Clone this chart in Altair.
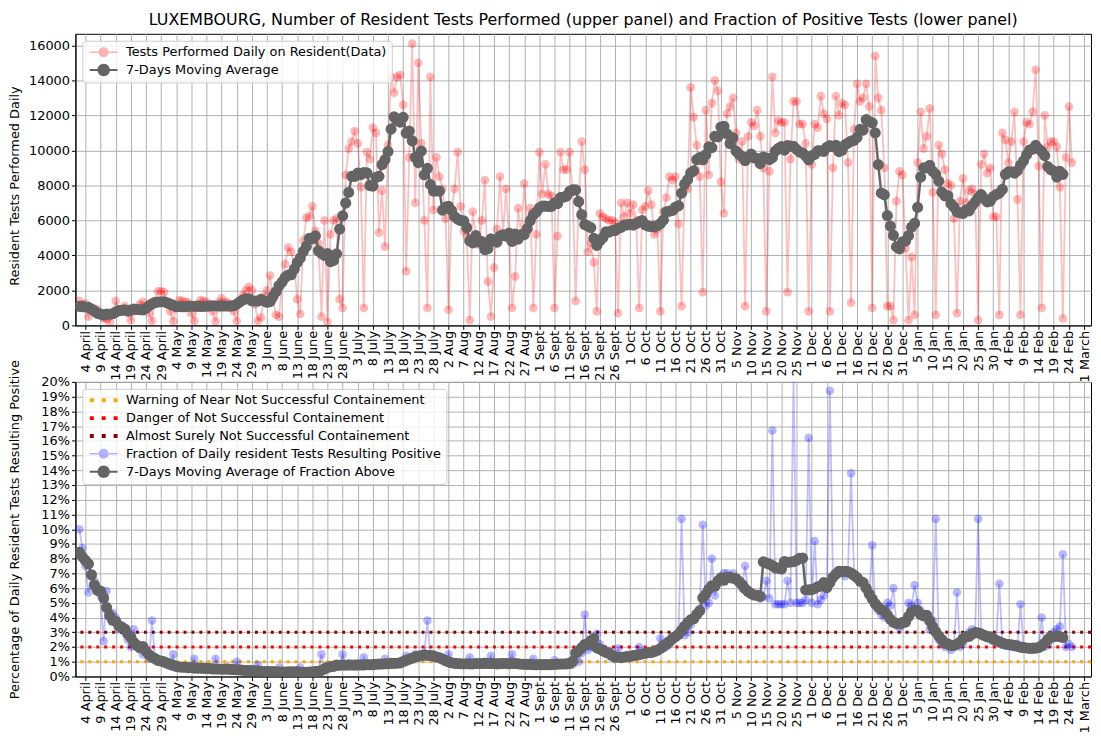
import altair as alt
import pandas as pd

# ---------------- data (day index d = days after 4 April 2020) ----------------
FIRST_DAY = -2

tests_daily = [
    1400, 1200, 1250, 500, 1000, 950, 900, 700, 400, 350,
    200, 600, 1400, 800, 900, 1100, 900, 300, 800, 900,
    1200, 1350, 1000, 700, 250, 1400, 1950, 1950, 1900, 1200,
    800, 250, 1000, 1450, 1400, 1350, 1300, 700, 250, 1200,
    1450, 1400, 1350, 1200, 800, 230, 1300, 1550, 1350, 1300,
    1200, 800, 250, 1250, 1700, 2000, 2200, 2000, 1200, 250,
    450, 1650, 2000, 2850, 1450, 600, 500, 2600, 3500, 4450,
    4200, 3350, 1500, 650, 4850, 6150, 6250, 6800, 5400, 4700,
    500, 6000, 200, 5200, 6000, 6100, 1500, 1000, 8600, 10100,
    10500, 11100, 10400, 7900, 1000, 9900, 9500, 11300, 11000, 5300,
    7700, 4500, 10300, 14200, 13300, 14200, 14300, 12600, 3100, 9600,
    16100, 7000, 15000, 10400, 6000, 1000, 14200, 6600, 9600, 8500,
    7800, 6100, 900, 6600, 7800, 9900, 6800, 5400, 5100, 300,
    6500, 5100, 4600, 6000, 8300, 2500, 500, 3300, 5500, 8500,
    5200, 7800, 4900, 1000, 2800, 6700, 5200, 8100, 5800, 6700,
    1000, 5200, 9900, 7500, 9200, 7500, 7400, 1000, 5100, 9900,
    8900, 8900, 9900, 7600, 1400, 7000, 10500, 8900, 4200, 4700,
    3600, 800, 6400, 6200, 6100, 6000, 6000, 5900, 700, 7000,
    6200, 7000, 6400, 6900, 6000, 1000, 6600, 6800, 7700, 6900,
    5200, 5500, 800, 6500, 7300, 8500, 8300, 8500, 5800, 1100,
    7800, 7800, 13600, 11900, 10300, 8500, 1900, 12300, 8600, 12700,
    14000, 13400, 8200, 6400, 12100, 12500, 13000, 11000, 9500, 10500,
    1100, 10800, 11600, 11400, 12300, 10800, 9000, 800, 8800, 14200,
    11000, 11700, 11600, 11600, 1900, 9500, 12800, 12800, 11500, 11500,
    10400, 800, 9200, 11500, 11300, 13100, 12100, 11800, 800, 9000,
    13100, 12000, 12700, 12600, 9300, 1300, 11200, 13800, 12800, 13000,
    13800, 12500, 1000, 15400, 13000, 12300, 9000, 1100, 1100, 300,
    7100, 8800, 8600, 4400, 300, 3900, 600, 9300, 12200, 10100,
    10800, 12400, 7600, 600, 10300, 9800, 8900, 8100, 8000, 6100,
    700, 7100, 8400, 7000, 7700, 7800, 7500, 300, 9200, 9800,
    8700, 9000, 6200, 6200, 600, 11000, 10600, 9300, 10500, 12200,
    7200, 600, 10500, 11600, 11500, 12200, 14600, 9100, 1000, 12000,
    10200, 10500, 10500, 10200, 7900, 400, 9600, 12500, 9300,
]

positive_pct = [
    10.0, 8.7, 7.5, 5.7, 6.8, 6.5, 6.0, 5.5, 2.4, 5.8,
    4.3, 4.3, 4.0, 3.2, 3.5, 3.0, 2.5, 2.0, 3.2, 2.2,
    2.0, 1.5, 1.8, 1.2, 3.8, 1.2, 1.0, 1.1, 0.9, 0.8,
    0.7, 1.5, 0.6, 0.6, 0.7, 0.6, 0.5, 0.6, 1.2, 0.5,
    0.6, 0.5, 0.6, 0.5, 0.4, 1.2, 0.5, 0.5, 0.4, 0.6,
    0.4, 0.5, 1.0, 0.4, 0.4, 0.4, 0.5, 0.3, 0.3, 0.8,
    0.3, 0.3, 0.4, 0.3, 0.3, 0.3, 0.6, 0.3, 0.3, 0.3,
    0.3, 0.3, 0.4, 0.6, 0.3, 0.3, 0.2, 0.3, 0.3, 0.4,
    1.5, 0.4, 0.5, 0.6, 0.8, 0.8, 0.7, 1.5, 0.8, 0.7,
    0.8, 0.7, 0.9, 0.7, 1.3, 0.8, 0.8, 0.7, 0.9, 0.8,
    0.8, 1.2, 0.9, 0.8, 0.8, 0.9, 1.0, 0.9, 1.4, 1.1,
    1.3, 1.5, 1.3, 1.4, 1.6, 3.8, 1.4, 1.5, 1.3, 1.2,
    1.1, 1.0, 1.5, 0.9, 0.8, 0.9, 0.8, 0.9, 0.9, 1.3,
    0.8, 0.9, 0.8, 0.8, 1.0, 0.9, 1.4, 0.8, 0.9, 0.8,
    0.8, 0.9, 1.0, 1.5, 0.8, 0.8, 0.9, 0.8, 0.8, 0.8,
    1.2, 0.8, 0.8, 0.7, 0.8, 0.9, 0.8, 1.1, 0.8, 0.8,
    0.8, 0.9, 0.9, 0.8, 1.6, 1.0, 1.6, 4.2, 1.8, 2.0,
    2.0, 2.9, 2.2, 1.9, 1.6, 1.4, 1.3, 1.2, 1.9, 1.2,
    1.3, 1.4, 1.3, 1.4, 1.5, 2.0, 1.5, 1.5, 1.6, 1.6,
    1.7, 1.8, 2.6, 1.9, 2.0, 2.2, 2.5, 2.7, 3.0, 10.7,
    2.8, 3.0, 3.5, 4.0, 4.2, 4.6, 10.3, 4.8, 5.0, 8.0,
    5.5, 6.3, 6.5, 7.0, 7.0, 6.8, 7.0, 6.5, 6.3, 6.0,
    7.5, 5.8, 5.6, 5.5, 5.4, 5.3, 5.4, 6.5, 5.3, 16.7,
    4.9, 4.9, 4.9, 4.9, 6.5, 5.0, 20.5, 5.0, 5.0, 5.0,
    5.2, 16.2, 5.0, 9.2, 4.9, 5.2, 5.5, 6.0, 19.4, 6.8,
    7.0, 7.0, 7.2, 6.8, 7.2, 13.8, 7.0, 6.8, 6.5, 6.3,
    6.0, 5.5, 8.9, 4.8, 4.5, 4.2, 4.0, 5.0, 4.8, 6.0,
    3.5, 3.3, 3.5, 3.8, 5.0, 4.8, 6.2, 5.0, 4.5, 4.2,
    4.0, 3.2, 3.8, 10.7, 2.5, 2.2, 2.0, 2.3, 1.8, 2.0,
    5.7, 2.0, 2.2, 2.6, 3.0, 3.2, 3.0, 10.7, 3.0, 2.8,
    2.6, 2.5, 2.4, 2.5, 6.3, 2.3, 2.2, 2.1, 2.0, 2.0,
    2.2, 4.9, 2.0, 1.9, 1.8, 1.8, 1.9, 2.0, 4.0, 2.0,
    2.2, 2.5, 3.0, 3.2, 3.4, 8.3, 2.0, 2.2, 2.0,
]

tick_labels = [
    "4 April", "9 April", "14 April", "19 April", "24 April", "29 April",
    "4 May", "9 May", "14 May", "19 May", "24 May", "29 May",
    "3 June", "8 June", "13 June", "18 June", "23 June", "28 June",
    "3 July", "8 July", "13 July", "18 July", "23 July", "28 July",
    "2 Aug", "7 Aug", "12 Aug", "17 Aug", "22 Aug", "27 Aug",
    "1 Sept", "6 Sept", "11 Sept", "16 Sept", "21 Sept", "26 Sept",
    "1 Oct", "6 Oct", "11 Oct", "16 Oct", "21 Oct", "26 Oct", "31 Oct",
    "5 Nov", "10 Nov", "15 Nov", "20 Nov", "25 Nov",
    "1 Dec", "6 Dec", "11 Dec", "16 Dec", "21 Dec", "26 Dec", "31 Dec",
    "5 Jan", "10 Jan", "15 Jan", "20 Jan", "25 Jan", "30 Jan",
    "4 Feb", "9 Feb", "14 Feb", "19 Feb", "24 Feb", "1 March",
]

level_values = [1, 2, 3]
level_names = [
    "Warning of Near Not Successful Containement",
    "Danger of Not Successful Containement",
    "Almost Surely Not Successful Containement",
]
level_colors = ["#FFA500", "#FF0000", "#8B0000"]

upper_names = ["Tests Performed Daily on Resident(Data)", "7-Days Moving Average"]
lower_names = ["Fraction of Daily resident Tests Resulting Positive",
               "7-Days Moving Average of Fraction Above"]

# ---------------- tables ----------------
days = list(range(FIRST_DAY, FIRST_DAY + len(tests_daily)))
LAST = days[-1]
df = pd.DataFrame({"d": days, "tests": tests_daily, "pct": positive_pct})

RED = "#FF0000"
BLUE = "#0000FF"
GRAY = "#646464"
FONT = "DejaVu Sans"
X_DOMAIN = [-3.3, 332.3]
UP_DOMAIN = [0, 16660]
LO_DOMAIN = [0, 20]
W = 1024
H_UP = 294
H_LO = 297

label_expr = "[" + ",".join("'" + s + "'" for s in tick_labels) + "][round(datum.value / 5)]"


def x_enc():
    return alt.X(
        "d:Q",
        scale=alt.Scale(domain=X_DOMAIN, nice=False, zero=False),
        axis=alt.Axis(
            values=list(range(0, 331, 5)), labelExpr=label_expr, labelAngle=270,
            labelFontSize=13, labelOverlap=False, labelFlush=False, labelBound=False,
            tickSize=4, labelPadding=1, title=None,
        ),
    )


def y_up(field):
    return alt.Y(
        f"{field}:Q",
        scale=alt.Scale(domain=UP_DOMAIN, nice=False, zero=True),
        axis=alt.Axis(values=list(range(0, 16001, 2000)), format="d",
                      title="Resident Tests Performed Daily",
                      titleX=-54, titleY=H_UP / 2 + 6, tickSize=4, labelFontSize=13,
                      labelOverlap=False, labelFlush=False),
    )


def y_lo(field):
    return alt.Y(
        f"{field}:Q",
        scale=alt.Scale(domain=LO_DOMAIN, nice=False, zero=True),
        axis=alt.Axis(values=list(range(0, 21)), labelExpr="datum.value + '%'",
                      title="Percentage of Daily Resident Tests Resulting Positive",
                      titleX=-54, titleY=H_LO / 2, tickSize=4, labelFontSize=13,
                      labelOverlap=False, labelFlush=False),
    )


# legend symbol paths (unit square scaled by sqrt(size)/2)
def circ(r):
    return f"M{-r},0A{r},{r} 0 1,1 {r},0A{r},{r} 0 1,1 {-r},0Z"


def bar(h):
    return f"M-2.8,{-h}H2.8V{h}H-2.8Z"


PATH_DATA = bar(0.15) + circ(1.0)
PATH_MA = bar(0.2) + circ(1.25)
PATH_DOTS = "M-2.8,-0.4H-2.0V0.4H-2.8ZM-0.4,-0.4H0.4V0.4H-0.4ZM2.0,-0.4H2.8V0.4H2.0Z"


def legend():
    return alt.Legend(
        title=None, orient="top-left", offset=7, padding=5,
        fillColor="rgba(255,255,255,0.8)", strokeColor="#cccccc", cornerRadius=3,
        labelFont=FONT, labelFontSize=13, labelColor="black", labelLimit=600,
        symbolSize=100, symbolStrokeWidth=0, symbolOpacity=1,
        symbolOffset=10, labelOffset=16, rowPadding=4,
    )


def legend_layer(names, colors, paths, yenc, yfield):
    ldf = pd.DataFrame({"series": names, "d": [0] * len(names), yfield: [0] * len(names)})
    return alt.Chart(ldf).mark_point(filled=True, opacity=0, size=100).encode(
        x=x_enc(),
        y=yenc(yfield),
        color=alt.Color("series:N", scale=alt.Scale(domain=names, range=colors), legend=legend()),
        shape=alt.Shape("series:N", scale=alt.Scale(domain=names, range=paths), legend=legend()),
    )


# ---------------- upper panel ----------------
base_up = alt.Chart(df)
up_line = base_up.mark_line(color=RED, opacity=0.25, strokeWidth=1.8, clip=True).encode(x=x_enc(), y=y_up("tests"))
up_pts = base_up.mark_circle(color=RED, opacity=0.28, size=75, clip=True).encode(x=x_enc(), y=y_up("tests"))
ma_up = alt.Chart(df).transform_window(
    ma="mean(tests)", frame=[-3, 3], sort=[alt.SortField("d")]
).transform_filter(f"datum.d <= {LAST - 3}")
up_ma_line = ma_up.mark_line(color=GRAY, strokeWidth=2.5, clip=True).encode(x=x_enc(), y=y_up("ma"))
up_ma_pts = ma_up.mark_circle(color=GRAY, opacity=1, size=125, clip=True).encode(x=x_enc(), y=y_up("ma"))

upper = alt.layer(
    up_line, up_pts, up_ma_line, up_ma_pts,
    legend_layer(upper_names, ["rgba(255,0,0,0.3)", GRAY], [PATH_DATA, PATH_MA], y_up, "tests"),
).properties(
    width=W, height=H_UP,
    title=alt.TitleParams(
        "LUXEMBOURG, Number of Resident Tests Performed (upper panel) and Fraction of Positive Tests (lower panel)",
        fontSize=16, fontWeight="normal", font=FONT, anchor="middle", frame="group", offset=6, color="black",
    ),
)

# ---------------- lower panel ----------------
levels_layers = []
for v, c in zip(level_values, level_colors):
    levels_layers.append(
        alt.Chart(pd.DataFrame({"pct": [v]})).mark_rule(
            color=c, strokeWidth=3, strokeDash=[3, 5]
        ).encode(y=y_lo("pct"))
    )

base_lo = alt.Chart(df)
lo_line = base_lo.mark_line(color=BLUE, opacity=0.25, strokeWidth=1.8, clip=True).encode(x=x_enc(), y=y_lo("pct"))
lo_pts = base_lo.mark_circle(color=BLUE, opacity=0.28, size=75, clip=True).encode(x=x_enc(), y=y_lo("pct"))
# 7-day centred moving fraction: positives summed over the window / tests summed over the window
ma_lo = alt.Chart(df).transform_calculate(
    pos="datum.pct * datum.tests"
).transform_window(
    spos="sum(pos)", stests="sum(tests)", frame=[-3, 3], sort=[alt.SortField("d")]
).transform_calculate(
    ma="datum.spos / datum.stests"
).transform_filter(f"datum.d <= {LAST - 3}")
lo_ma_line = ma_lo.mark_line(color=GRAY, strokeWidth=2.5, clip=True).encode(x=x_enc(), y=y_lo("ma"))
lo_ma_pts = ma_lo.mark_circle(color=GRAY, opacity=1, size=125, clip=True).encode(x=x_enc(), y=y_lo("ma"))

lower = alt.layer(
    *levels_layers, lo_line, lo_pts, lo_ma_line, lo_ma_pts,
    legend_layer(level_names + lower_names,
                 level_colors + ["rgba(0,0,255,0.3)", GRAY],
                 [PATH_DOTS, PATH_DOTS, PATH_DOTS, PATH_DATA, PATH_MA], y_lo, "pct"),
).properties(width=W, height=H_LO)

chart = alt.vconcat(upper, lower, spacing=57, bounds="flush").resolve_scale(
    color="independent", shape="independent"
).configure(
    font=FONT, padding={"left": 0, "top": 0, "right": 0, "bottom": 0}
).configure_axis(
    labelFont=FONT, titleFont=FONT, labelColor="black", titleColor="black",
    titleFontSize=13, titleFontWeight="normal",
    gridColor="#b0b0b0", gridWidth=1, gridOpacity=1,
    domainColor="black", tickColor="black",
).configure_view(stroke="black", strokeWidth=1)

chart.save("out.html", embed_options={"renderer": "svg", "actions": False})
